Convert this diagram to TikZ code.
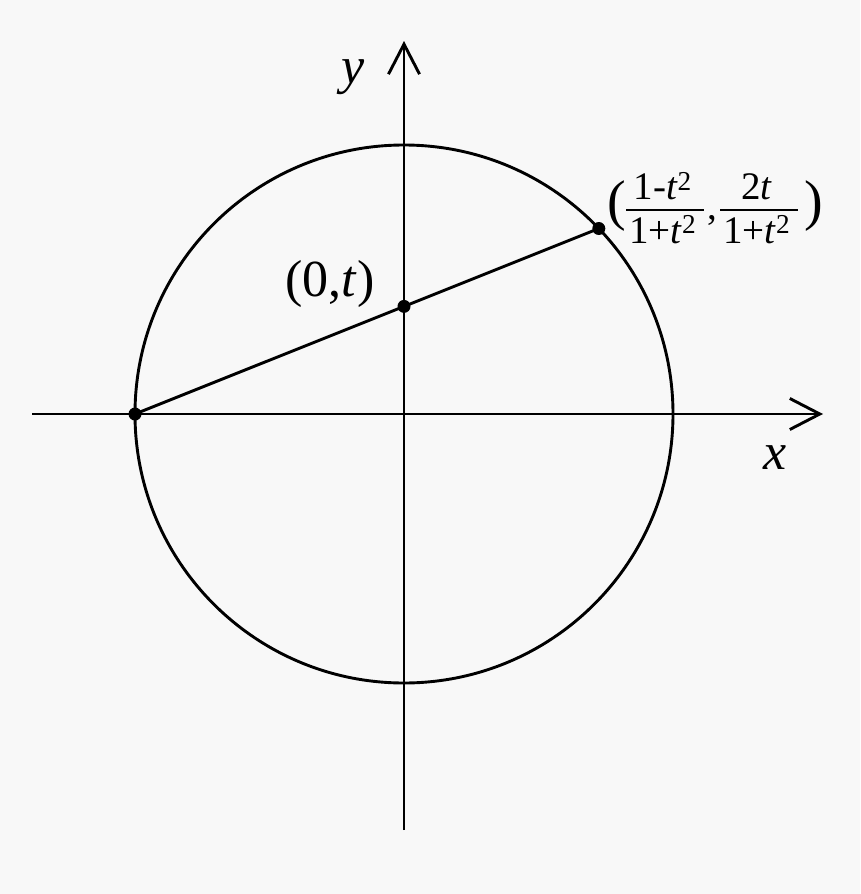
\documentclass[tikz,border=0pt]{standalone}
\usepackage{fontspec}
\setmainfont{Liberation Serif}
\usetikzlibrary{arrows.meta}
\definecolor{bgc}{HTML}{F8F8F8}
\newcommand{\myfrac}[2]{\begin{tabular}[c]{@{\hspace{3pt}}c@{\hspace{8pt}}}#1\\[-3pt]\hline\rule{0pt}{32pt}#2\end{tabular}}
\setlength{\arrayrulewidth}{1.6pt}
\begin{document}
\begin{tikzpicture}[x=1pt,y=-1pt,line width=2.9pt,
  dot/.style={circle,fill=black,inner sep=0pt,minimum size=13pt},
  axis/.style={-{Straight Barb[length=30pt,width=31pt,line width=2.9pt]}},
  lbl/.style={inner sep=0pt,font=\fontsize{52}{60}\selectfont}]
\fill[bgc] (0,0) rectangle (860,894);
\useasboundingbox (0,0) rectangle (860,894);
\coordinate (O) at (404,414);
\coordinate (xs) at (32,414);
\coordinate (xe) at (823,414);
\coordinate (ys) at (404,830);
\coordinate (ye) at (404,41);
\draw (O) circle[radius=269pt];
\draw[axis] (xs) -- (xe);
\draw[axis] (ys) -- (ye);
\node[dot] (A) at (135,414) {};
\node[dot] (T) at (404,306.4) {};
\node[dot] (P) at (598.8,228.5) {};
\draw (A.center) -- (P.center);
\node[lbl] (ly) at (353,77) {\textit{y}};
\node[lbl] (lx) at (775,458) {\textit{x}};
\node[lbl] (lt) at (330,284) {(0,\textit{t})};
\node[anchor=west,inner sep=0pt] (lp) at (606,213)
  {\fontsize{56}{60}\selectfont(\fontsize{39}{42}\selectfont\myfrac{1-\textit{t}\textsuperscript{2}}{1+\textit{t}\textsuperscript{2}}\hspace{3pt},\hspace{3pt}\myfrac{2\textit{t}}{1+\textit{t}\textsuperscript{2}}\fontsize{56}{60}\selectfont\hspace{6pt})};
\end{tikzpicture}
\end{document}
